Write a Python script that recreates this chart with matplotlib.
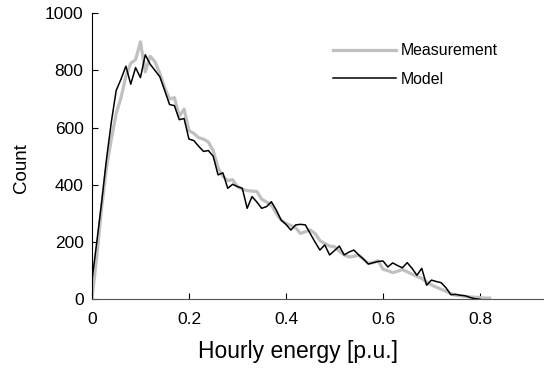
import numpy as np
import matplotlib
matplotlib.use("Agg")
import matplotlib.pyplot as plt

plt.rcParams['font.family'] = ['Liberation Sans', 'DejaVu Sans']

# bin centres of hourly energy [p.u.]
energy = [round(0.01 * k, 2) for k in range(83)]

measurement = [0, 150, 320, 460, 560, 650, 705, 780, 825, 838,
               900, 795, 850, 830, 790, 740, 700, 705, 640, 665,
               590, 580, 565, 560, 550, 520, 460, 430, 415, 418,
               394, 385, 380, 378, 377, 350, 340, 330, 300, 277,
               265, 258, 250, 230, 236, 242, 230, 205, 195, 186,
               184, 168, 155, 148, 150, 154, 140, 125, 128, 135,
               105, 100, 93, 98, 104, 96, 88, 80, 73, 60,
               50, 42, 35, 28, 20, 14, 12, 10, 8, 7,
               6, 4, 4]

model = [65, 200, 340, 490, 620, 730, 770, 815, 752, 810,
         775, 855, 822, 800, 778, 730, 681, 677, 628, 632,
         560, 555, 535, 517, 520, 500, 435, 442, 388, 402,
         394, 388, 318, 359, 340, 318, 324, 341, 312, 277,
         262, 242, 260, 262, 260, 230, 200, 172, 190, 155,
         170, 186, 155, 165, 172, 155, 140, 123, 128, 132,
         134, 113, 127, 118, 110, 128, 108, 84, 108, 49,
         67, 62, 58, 40, 16, 17, 14, 12, 6, 2,
         0]

fig = plt.figure(figsize=(5.44, 3.69), dpi=100)
ax = fig.add_axes([0.169, 0.189, 0.831, 0.775])

ax.plot(energy, measurement, color="#c0c0c0", linewidth=2.3, label="Measurement")
ax.plot(energy[:len(model)], model, color="black", linewidth=1.1, label="Model")

ax.set_xlim(0, 0.932)
ax.set_ylim(0, 1000)
ax.set_xticks([0, 0.2, 0.4, 0.6, 0.8])
ax.set_xticklabels(["0", "0.2", "0.4", "0.6", "0.8"])
ax.set_yticks([0, 200, 400, 600, 800, 1000])

ax.spines["top"].set_visible(False)
ax.spines["right"].set_visible(False)
ax.spines["bottom"].set_color("#555555")
ax.tick_params(direction="in", length=4, labelsize=12.5)
ax.tick_params(axis="x", pad=9)
ax.tick_params(axis="y", pad=6)

ax.set_xlabel("Hourly energy [p.u.]", fontsize=16.5)
ax.xaxis.set_label_coords(0.456, -0.143)
ax.set_ylabel("Count", fontsize=13.5)
ax.yaxis.set_label_coords(-0.136, 0.458)

ax.legend(loc="upper right", bbox_to_anchor=(0.93, 0.945), frameon=False,
          fontsize=11.4, handlelength=4.0, handletextpad=0.3, labelspacing=0.85)

fig.savefig("out.png", dpi=100)
